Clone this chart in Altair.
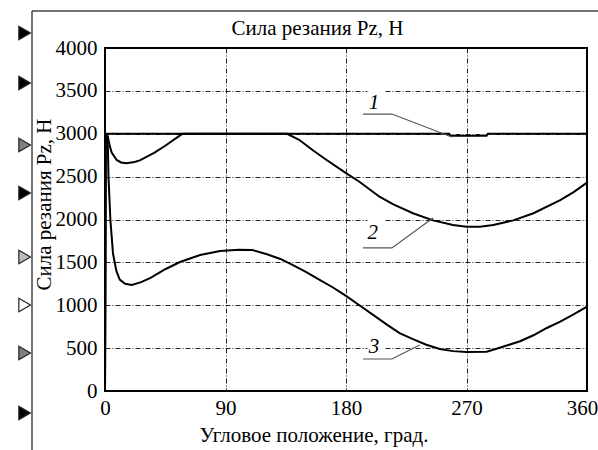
import altair as alt
import pandas as pd

# ---- data ----
angle1 = [0, 0.5, 257, 258, 285, 286, 360]
force1 = [0, 3000, 3000, 2978, 2978, 3000, 3000]

angle2 = [0, 0.5, 2, 3.7, 5, 8.7, 12, 16, 22, 26, 37, 45, 55, 58, 136, 145, 155, 165,
          180, 190, 205, 215, 230, 245, 260, 270, 280, 290, 305, 320, 340, 350, 360]
force2 = [0, 3000, 2975, 2850, 2780, 2694, 2665, 2655, 2670, 2690, 2780, 2860, 2970, 3000,
          3000, 2930, 2810, 2700, 2540, 2440, 2266, 2180, 2073, 1990, 1935, 1915, 1915,
          1936, 1990, 2073, 2227, 2320, 2430]

angle3 = [0, 0.5, 2, 2.6, 4, 6, 8.5, 11, 15, 20, 27, 34, 45, 56, 71, 86, 100, 110, 121,
          131, 140, 150, 160, 170, 180, 190, 200, 210, 220, 230, 240, 250, 260, 270, 285,
          293, 300, 310, 320, 330, 340, 350, 360]
force3 = [0, 3000, 2950, 2500, 2000, 1600, 1400, 1300, 1250, 1236, 1270, 1318, 1420, 1504,
          1586, 1633, 1648, 1645, 1595, 1540, 1470, 1390, 1300, 1210, 1110, 1000, 890, 780,
          675, 605, 540, 490, 465, 455, 458, 495, 530, 580, 650, 735, 810, 895, 985]

label_names = ["1", "2", "3"]
label_angle = [201, 200, 201]
label_force = [3359, 1843, 513]

leader_angle = [[192.7, 214.3, 259], [192.7, 214.3, 245], [192.7, 214.3, 235]]
leader_force = [[3230, 3230, 2962], [1668, 1668, 2017], [373, 373, 536]]

gap_force = [3500, 2000, 500]
gap_angle = [196, 209]

marker_angle = -60
marker_force = [4175, 3592, 2869, 2309, 1563, 1003, 443, -257]
marker_fill = ["black", "black", "#808080", "black", "#bbbbbb", "white", "#808080", "black"]

x_ticks = [0, 90, 180, 270, 360]
y_ticks = [0, 500, 1000, 1500, 2000, 2500, 3000, 3500, 4000]

chart_title = "Сила резания Pz, Н"

# ---- tables ----
curves = pd.concat([
    pd.DataFrame({"angle": angle1, "force": force1, "curve": "1"}),
    pd.DataFrame({"angle": angle2, "force": force2, "curve": "2"}),
    pd.DataFrame({"angle": angle3, "force": force3, "curve": "3"}),
], ignore_index=True)

labels = pd.DataFrame({"angle": label_angle, "force": label_force, "name": label_names})

leader_rows = []
for name, la, lf in zip(label_names, leader_angle, leader_force):
    for i, (a, f) in enumerate(zip(la, lf)):
        leader_rows.append({"angle": a, "force": f, "name": name, "order": i})
leaders = pd.DataFrame(leader_rows)

gaps = pd.DataFrame({"angle": gap_angle[0], "angle2": gap_angle[1],
                     "force": [g - 40 for g in gap_force], "force2": [g + 40 for g in gap_force]})

markers = pd.DataFrame({"angle": marker_angle, "force": marker_force, "fill": marker_fill})

FONT = "Liberation Serif"
FS = 21

xs = alt.Scale(domain=[0, 360], nice=False, zero=False)
ys = alt.Scale(domain=[0, 4000], nice=False)

xaxis = alt.Axis(values=x_ticks, title="Угловое положение, град.", grid=True, format="d",
                 titleX=208.5, titleY=50.5, titleBaseline="alphabetic", labelPadding=6,
                 labelFlush=False,
                 labelOffset={"condition": {"test": "datum.value == 360", "value": -5},
                              "value": 0})
yaxis = alt.Axis(values=y_ticks, title="Сила резания Pz, Н", grid=True, format="d",
                 titleX=-55, titleY=156, titleBaseline="alphabetic", titleAngle=270,
                 titleAlign="center", labelPadding=8)

X = alt.X("angle:Q", scale=xs, axis=xaxis)
Y = alt.Y("force:Q", scale=ys, axis=yaxis)

gap_layer = alt.Chart(gaps).mark_rect(color="white").encode(
    x=X, x2="angle2:Q", y=Y, y2="force2:Q")

curve_layer = alt.Chart(curves).mark_line(color="black", strokeWidth=2).encode(
    x=X, y=Y, detail="curve:N")

leader_layer = alt.Chart(leaders).mark_line(color="#555555", strokeWidth=1.2).encode(
    x=X, y=Y, detail="name:N", order="order:Q")

label_layer = alt.Chart(labels).mark_text(
    font=FONT, fontSize=FS, fontStyle="italic", color="black",
    align="center", baseline="middle").encode(x=X, y=Y, text="name:N")

marker_layer = alt.Chart(markers).mark_point(
    shape="triangle-right", filled=True, size=180, stroke="#222222",
    strokeWidth=1.2, opacity=1).encode(
    x=X, y=Y, fill=alt.Fill("fill:N", scale=None))

frame_v = alt.Chart(alt.Data(values=[{}])).mark_rule(color="#444444", strokeWidth=1.5).encode(
    x=alt.value(-73), y=alt.value(-37), y2=alt.value(402))
frame_h = alt.Chart(alt.Data(values=[{}])).mark_rule(color="#444444", strokeWidth=1.5).encode(
    x=alt.value(-73), x2=alt.value(493), y=alt.value(-37))

title_layer = alt.Chart(alt.Data(values=[{"t": chart_title}])).mark_text(
    font=FONT, fontSize=FS, color="black", align="center", baseline="alphabetic").encode(
    x=alt.value(212.5), y=alt.value(-13), text="t:N")

chart = alt.layer(gap_layer, curve_layer, leader_layer, label_layer, marker_layer,
                  frame_v, frame_h, title_layer).properties(
    width=482, height=343,
    background="white",
    autosize=alt.AutoSizeParams(type="none"),
    padding={"left": 105, "top": 48, "right": 11, "bottom": 59},
).configure_view(
    stroke="black", strokeWidth=2
).configure_axis(
    domain=False, ticks=False, tickSize=0,
    labelFont=FONT, labelFontSize=FS, labelColor="black",
    titleFont=FONT, titleFontSize=FS, titleFontWeight="normal", titleColor="black",
    gridColor="black", gridDash=[5, 2, 1, 2], gridWidth=1, gridOpacity=0.85,
)

chart.save("out.html", embed_options={"renderer": "svg", "actions": False})
